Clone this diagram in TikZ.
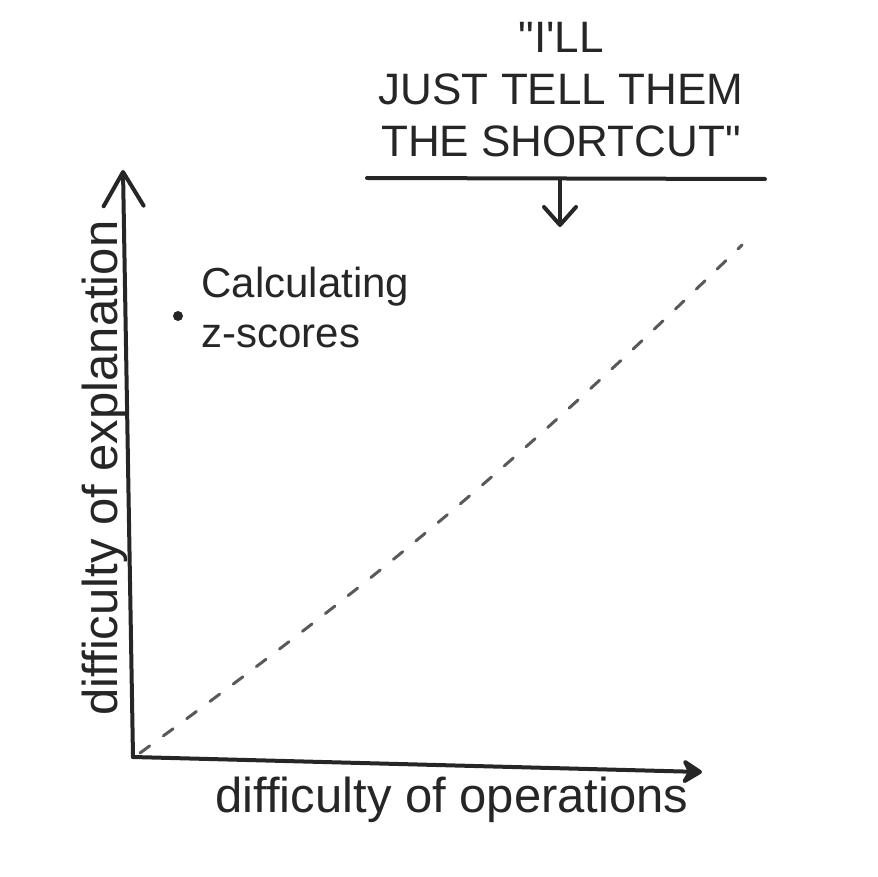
\documentclass[tikz,border=0pt]{standalone}
\usepackage{fontspec}
\setmainfont{Liberation Sans}[Ligatures=TeXOff]
\usetikzlibrary{arrows.meta,positioning}

\begin{document}
\begin{tikzpicture}[
  x=1pt, y=-1pt,
  pen/.style={line width=4pt, line cap=round, line join=round, black!85},
  hand/.style={font=\fontsize{49}{54}\selectfont, text=black!85, inner sep=0pt},
  note/.style={font=\fontsize{42}{50}\selectfont, text=black!85, inner sep=0pt},
  barb/.style={-{Straight Barb[length=34pt, width=40pt, round]}}
]
\useasboundingbox (0,0) rectangle (878,877);

% Axes, drawn by hand.
\coordinate (origin) at (133,757);
\coordinate (ytop) at (123,170);
\coordinate (xend) at (702,772);
\draw[pen, barb] (origin) -- (ytop);
\draw[pen, -{Stealth[length=24pt, width=30pt, inset=8pt, round]}] (origin) -- (xend);
\node[hand, rotate=90, anchor=base] (ylab) at (117,468) {difficulty of explanation};
\node[hand, anchor=base] (xlab) at (452,812) {difficulty of operations};

% The one marked topic.
\node[circle, fill=black!85, inner sep=0pt, minimum size=10pt] (zdot) at (178,316) {};
\node[note, align=left, anchor=west] (zlab) at ([xshift=18pt, yshift=9pt]zdot.east)
  {Calculating\\z-scores};

% Shortcut line and its caption.
\coordinate (short) at (742,245);
\draw[pen, line width=3pt, black!65, dash pattern=on 12pt off 17pt]
  ([shift={(7pt,4pt)}]origin) to[bend right=4] (short);
\coordinate (rulel) at (367,178);
\coordinate (ruler) at (765,179);
\draw[pen] (rulel) -- (ruler);
\node[note, font=\fontsize{44}{52}\selectfont, align=center, anchor=south] (quote) at (561,157)
  {"I'LL\\JUST TELL THEM\\THE SHORTCUT"};
\coordinate (arrtop) at (560,180);
\coordinate (arrtip) at (560,227);
\draw[pen, -{Straight Barb[length=18pt, width=32pt, round]}] (arrtop) -- (arrtip);
\end{tikzpicture}
\end{document}
